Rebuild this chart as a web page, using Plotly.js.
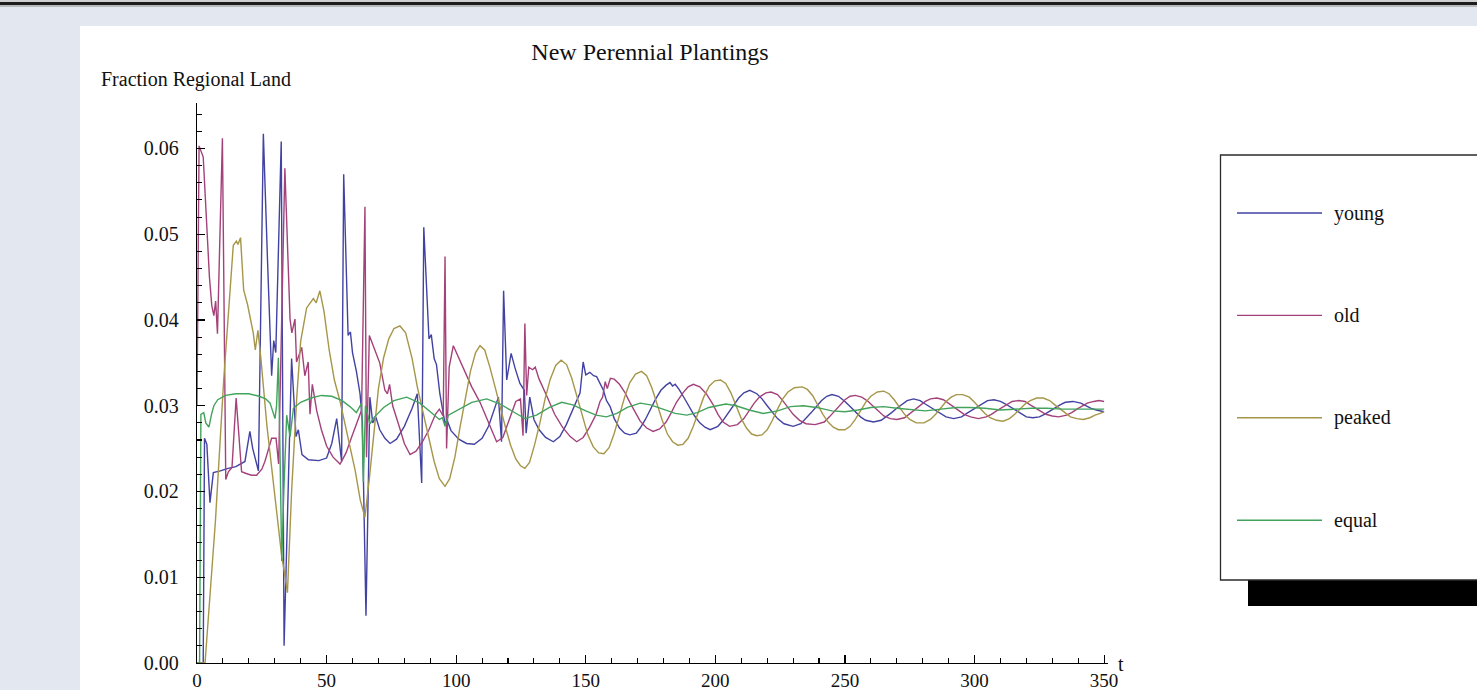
<!DOCTYPE html>
<html>
<head>
<meta charset="utf-8">
<script src="https://cdn.plot.ly/plotly-3.0.1.min.js"></script>
<style>
  html, body { margin: 0; padding: 0; width: 1477px; height: 690px; overflow: hidden; background: #e3e7f0; }
  #topband { position: absolute; left: 0; top: 0; width: 1477px; height: 7px;
    background: linear-gradient(to bottom, #d0d0d0 0px, #d0d0d0 2px, #1c1c1c 2px, #1c1c1c 5px, #b8b8b8 5px, #b8b8b8 7px); }
  #panel { position: absolute; left: 80px; top: 26px; width: 1397px; height: 664px; background: #ffffff; }
  #chart { position: absolute; left: 0; top: 0; width: 1477px; height: 690px; }
</style>
</head>
<body>
<div id="topband"></div>
<div id="panel"></div>
<div id="chart"></div>
<script>
// ---------------- data ----------------
const seriesNames = ["young", "old", "peaked", "equal"];
const seriesColors = ["#4242a3", "#a3427a", "#a69649", "#42a35c"];

const tYoung = [0,2.4,2.9,3.8,5,6.3,9,12,15,17,18.5,20.4,21.5,23.7,25.6,27.2,28.8,29.6,30.4,32.5,33.6,36.5,38.2,39.1,40.5,43,47,50,52,53.9,55.8,56.6,58.3,59.2,60,61.5,62.9,63.8,65.2,66.7,67.8,69,70.5,72.5,74.5,77,80,83,85,86.7,87.5,89.5,90.4,91.5,92.4,93.7,95.7,96.5,98,101,104,107,110,112.5,114.5,116.3,117.5,118.3,119.5,121.2,122.8,124.6,126.3,127,128.4,130,132,134.5,137.5,140,142.5,145,147.8,149,150,151.6,153,154.2,156.8,158,159.4,161,163,165,167,169.5,171,173,175,177,179,181,182.5,183.5,184.5,186,188,190,192,194,196,198,201,203,205,207,209,211,213.3,216,218,220,222,224,226.5,230,233,235,237,239,241,243,245,247.5,250,252,254,256,258,261,264,266,268,270,272,274,276.5,279,281,283,285,287,289,292,295,297,299,301,303,305,307.5,310,312,314,316,318,320,322.5,325,327,329,331,333,335,338,341,343,345,347,350];
const young = [0.0000,0.0000,0.0262,0.0255,0.0187,0.0222,0.0224,0.0227,0.0229,0.0232,0.0235,0.0270,0.0250,0.0224,0.0617,0.0470,0.0335,0.0376,0.0362,0.0608,0.0020,0.0355,0.0264,0.0272,0.0243,0.0237,0.0236,0.0239,0.0256,0.0285,0.0235,0.0570,0.0382,0.0386,0.0362,0.0340,0.0314,0.0282,0.0055,0.0310,0.0280,0.0287,0.0272,0.0262,0.0256,0.0261,0.0276,0.0297,0.0314,0.0210,0.0508,0.0378,0.0383,0.0355,0.0348,0.0314,0.0279,0.0283,0.0271,0.0261,0.0256,0.0255,0.0262,0.0276,0.0293,0.0310,0.0258,0.0434,0.0330,0.0361,0.0343,0.0326,0.0318,0.0268,0.0310,0.0284,0.0272,0.0263,0.0258,0.0264,0.0278,0.0295,0.0315,0.0351,0.0336,0.0339,0.0335,0.0334,0.0318,0.0306,0.0299,0.0285,0.0274,0.0268,0.0266,0.0268,0.0274,0.0284,0.0296,0.0308,0.0318,0.0324,0.0327,0.0323,0.0325,0.0319,0.0309,0.0298,0.0288,0.0280,0.0275,0.0272,0.0276,0.0283,0.0292,0.0301,0.0309,0.0315,0.0318,0.0314,0.0308,0.0300,0.0292,0.0285,0.0279,0.0276,0.0279,0.0285,0.0292,0.0299,0.0306,0.0311,0.0313,0.0311,0.0305,0.0299,0.0293,0.0287,0.0283,0.0281,0.0283,0.0287,0.0292,0.0297,0.0302,0.0306,0.0308,0.0306,0.0302,0.0298,0.0294,0.0290,0.0287,0.0285,0.0287,0.0291,0.0295,0.0299,0.0303,0.0306,0.0307,0.0305,0.0302,0.0298,0.0294,0.0290,0.0287,0.0286,0.0287,0.0290,0.0294,0.0298,0.0301,0.0304,0.0305,0.0303,0.0300,0.0297,0.0295,0.0293];

const tOld = [0,0.8,2.4,3.5,4.8,5.7,6.5,7.2,7.9,9.8,11.1,12.1,13.5,15.1,17.2,19,21,23,25,26.2,28.8,30.5,31.5,33.9,35.9,36.6,37.8,38.4,40.4,41.6,42.9,43.6,44.5,46.2,48,50,52.5,55.2,57.5,59.5,61.6,63.5,64.8,65.4,66.5,68.6,70.5,72.5,73.5,74.3,75.5,78,80,82.2,84.5,87,89.5,92,93.5,95,95.7,96.3,97.3,98.9,100.8,103,106,109.2,112,115.6,118,120.5,123,124.8,125.8,126.5,127.2,128,129.5,130.5,132,135,138,141,144,146.5,149,151.5,154,155.5,156.5,157.5,158.3,159.5,161,163,165,167,169,171,173.5,176,178.5,181,183,185,187.5,189.5,191.5,194,196.5,199,201,203,205.5,208.5,211,213,215,217,219.5,221.5,224,226,228,230,232.5,235,238.5,242,244,246,248,250,252,254,256.5,259,261,263,265,267.5,270,273,275,277,279,281,283,285.5,288,290,292,294,296,298.5,301.5,304.5,306.5,308.5,310.5,312.5,314.5,317,319.5,321.5,323.5,325.5,327.5,330,332.5,335.5,337.5,339.5,341.5,343.5,346,348,350];
const old = [0.0300,0.0603,0.0590,0.0520,0.0450,0.0417,0.0405,0.0422,0.0384,0.0612,0.0214,0.0223,0.0228,0.0309,0.0223,0.0221,0.0219,0.0219,0.0226,0.0235,0.0262,0.0262,0.0232,0.0577,0.0401,0.0385,0.0401,0.0351,0.0368,0.0335,0.0351,0.0290,0.0325,0.0294,0.0272,0.0253,0.0240,0.0232,0.0245,0.0262,0.0279,0.0295,0.0532,0.0240,0.0382,0.0365,0.0350,0.0318,0.0314,0.0325,0.0300,0.0276,0.0256,0.0243,0.0247,0.0258,0.0272,0.0290,0.0296,0.0288,0.0474,0.0250,0.0345,0.0370,0.0357,0.0341,0.0322,0.0304,0.0283,0.0258,0.0263,0.0285,0.0305,0.0308,0.0265,0.0396,0.0312,0.0345,0.0342,0.0345,0.0331,0.0311,0.0290,0.0275,0.0264,0.0258,0.0263,0.0275,0.0290,0.0305,0.0310,0.0328,0.0320,0.0332,0.0331,0.0325,0.0316,0.0304,0.0293,0.0282,0.0274,0.0270,0.0273,0.0281,0.0292,0.0304,0.0315,0.0322,0.0325,0.0322,0.0314,0.0302,0.0290,0.0281,0.0276,0.0278,0.0285,0.0294,0.0303,0.0310,0.0315,0.0316,0.0313,0.0306,0.0298,0.0290,0.0283,0.0279,0.0278,0.0281,0.0287,0.0294,0.0301,0.0307,0.0311,0.0312,0.0310,0.0305,0.0299,0.0293,0.0288,0.0285,0.0284,0.0286,0.0291,0.0296,0.0301,0.0305,0.0308,0.0309,0.0307,0.0303,0.0299,0.0294,0.0290,0.0287,0.0285,0.0287,0.0290,0.0294,0.0298,0.0302,0.0305,0.0306,0.0305,0.0301,0.0297,0.0293,0.0290,0.0288,0.0287,0.0289,0.0292,0.0296,0.0300,0.0303,0.0305,0.0306,0.0305];

const tPeaked = [0,3.1,7.1,10.3,14,15.2,15.8,16.8,18,19.5,21.7,22.5,23.5,24.5,27,30,32.7,33.5,34.9,36.5,38.5,40,42.3,44.9,46,47.4,49,51,53,55.2,58,61,63,64.8,66.5,68.5,70,72,74,76,78.3,80.5,83,85,87.3,89.5,91.5,93.5,95.7,97.5,99.5,101.5,103.5,105.5,107.5,109.2,111,113,115,117,119,121,123,124.8,126.5,128.3,130.3,132.3,134.3,136.3,138.4,140.5,142.6,144.6,146.7,148.8,150.8,152.9,155,157,159,161,163,165,167,169.2,171.5,173.5,175.5,177.5,179.5,181.5,183.5,185.5,187.5,189.5,191.5,193.5,195.5,197.7,199.8,202,204,206,208,210,212,214,216,218,220,222,224,226,228,230.5,233.5,235.5,237.5,239.5,241.5,243.5,245.5,247.5,250,252,254,256,258,260,262.5,265,267,269,271,273,275,277.5,280.5,283,285,287,289,291,293,295.5,298,300,302,304,306,308.5,311,313.5,315.5,317.5,319.5,321.5,324,326.5,329,331,333,335,337,339.5,342,344.5,346.5,348.5,350];
const peaked = [0.0000,0.0000,0.0165,0.0330,0.0487,0.0492,0.0488,0.0496,0.0435,0.0418,0.0385,0.0365,0.0388,0.0360,0.0276,0.0195,0.0124,0.0110,0.0082,0.0200,0.0310,0.0375,0.0414,0.0425,0.0420,0.0434,0.0410,0.0365,0.0330,0.0305,0.0268,0.0225,0.0190,0.0170,0.0215,0.0280,0.0320,0.0356,0.0378,0.0390,0.0393,0.0385,0.0355,0.0322,0.0290,0.0260,0.0235,0.0215,0.0206,0.0215,0.0240,0.0275,0.0310,0.0340,0.0362,0.0370,0.0365,0.0345,0.0322,0.0298,0.0275,0.0254,0.0238,0.0230,0.0227,0.0234,0.0255,0.0280,0.0308,0.0331,0.0347,0.0353,0.0348,0.0332,0.0310,0.0287,0.0266,0.0252,0.0245,0.0244,0.0251,0.0268,0.0289,0.0310,0.0327,0.0337,0.0340,0.0335,0.0321,0.0302,0.0283,0.0267,0.0258,0.0254,0.0255,0.0262,0.0276,0.0293,0.0310,0.0323,0.0329,0.0330,0.0326,0.0315,0.0300,0.0285,0.0274,0.0267,0.0265,0.0266,0.0272,0.0283,0.0296,0.0308,0.0316,0.0321,0.0322,0.0319,0.0312,0.0301,0.0290,0.0281,0.0275,0.0272,0.0272,0.0276,0.0284,0.0294,0.0304,0.0311,0.0316,0.0317,0.0314,0.0307,0.0299,0.0290,0.0284,0.0280,0.0280,0.0284,0.0290,0.0298,0.0305,0.0310,0.0313,0.0313,0.0310,0.0304,0.0297,0.0291,0.0286,0.0283,0.0282,0.0285,0.0290,0.0296,0.0302,0.0306,0.0309,0.0309,0.0306,0.0301,0.0296,0.0291,0.0287,0.0285,0.0284,0.0286,0.0289,0.0291,0.0293];

const tEqual = [0,1.0,1.5,2.6,3.4,4.6,5.6,6.5,8,11,15,20,24,26.5,28.2,29.4,30.1,30.7,31.4,32,32.7,33.5,34.6,35.9,37.2,40,44,48,52,56,59,61.5,62.8,63.5,64.2,65,66.7,68.5,72,76,80.9,86,90,93.5,94.7,95.7,97,101,106,111.8,117,122,126.5,131,136,140.7,145,150,154,158,162,166,171,175,180,184.5,189,193,197.5,204,208,213,218.5,224,229,234,239,245,250,255,260,265,270,276,281,287,293,298,304,310,316,322,328,334,340,345,350];
const equal = [0.0000,0.0000,0.0290,0.0292,0.0280,0.0275,0.0290,0.0300,0.0307,0.0312,0.0314,0.0314,0.0311,0.0308,0.0303,0.0290,0.0285,0.0300,0.0356,0.0250,0.0119,0.0200,0.0289,0.0264,0.0297,0.0304,0.0309,0.0312,0.0311,0.0306,0.0299,0.0292,0.0300,0.0303,0.0211,0.0300,0.0279,0.0287,0.0298,0.0306,0.0310,0.0303,0.0293,0.0284,0.0286,0.0276,0.0289,0.0296,0.0304,0.0308,0.0302,0.0293,0.0285,0.0289,0.0298,0.0304,0.0301,0.0294,0.0289,0.0287,0.0291,0.0298,0.0303,0.0301,0.0296,0.0291,0.0289,0.0292,0.0298,0.0302,0.0300,0.0295,0.0291,0.0294,0.0299,0.0300,0.0298,0.0294,0.0293,0.0295,0.0298,0.0299,0.0297,0.0295,0.0294,0.0296,0.0298,0.0298,0.0297,0.0295,0.0296,0.0297,0.0297,0.0296,0.0296,0.0296,0.0296];

const xTickVals = [0, 50, 100, 150, 200, 250, 300, 350];
const yTickVals = [0, 0.01, 0.02, 0.03, 0.04, 0.05, 0.06];

// ---------------- geometry helpers (pixels -> paper) ----------------
const W = 1477, H = 690;
const mL = 197, mR = W - 1108, mT = 103, mB = H - 663;
const pw = W - mL - mR, ph = H - mT - mB;
const px = p => (p - mL) / pw;
const py = p => (H - mB - p) / ph;

const FONT = "Liberation Serif, Times New Roman, serif";

const xs = [tYoung, tOld, tPeaked, tEqual];
const ys = [young, old, peaked, equal];
const traces = seriesNames.map((n, i) => ({
  type: "scatter", mode: "lines", name: n,
  x: xs[i], y: ys[i],
  line: { color: seriesColors[i], width: 1.4 },
  hoverinfo: "skip"
}));

// custom legend (drawn from the series names/colours)
const shapes = [];
const annotations = [];
shapes.push({ type: "rect", xref: "paper", yref: "paper", x0: px(1248), x1: px(1500), y0: py(606), y1: py(579),
  fillcolor: "#000000", line: { width: 0 }, layer: "above" });
shapes.push({ type: "rect", xref: "paper", yref: "paper", x0: px(1220.5), x1: px(1500), y0: py(580), y1: py(155),
  fillcolor: "#ffffff", line: { color: "#2a2a2a", width: 1.3 }, layer: "above" });
seriesNames.forEach((n, i) => {
  const yy = 213 + i * 102.4;
  shapes.push({ type: "line", xref: "paper", yref: "paper", x0: px(1237), x1: px(1322), y0: py(yy), y1: py(yy),
    line: { color: seriesColors[i], width: 1.4 }, layer: "above" });
  annotations.push({ xref: "paper", yref: "paper", x: px(1332), y: py(yy), xanchor: "left", yanchor: "middle",
    text: n, showarrow: false, font: { family: FONT, size: 20, color: "#111" } });
});
annotations.push({ xref: "paper", yref: "paper", x: px(99), y: py(80), xanchor: "left", yanchor: "middle",
  text: "Fraction Regional Land", showarrow: false, font: { family: FONT, size: 20, color: "#111" } });
annotations.push({ xref: "paper", yref: "paper", x: px(1116), y: py(664), xanchor: "left", yanchor: "middle",
  text: "t", showarrow: false, font: { family: FONT, size: 20, color: "#111" } });

const layout = {
  width: W, height: H,
  margin: { l: mL, r: mR, t: mT, b: mB, pad: 0 },
  paper_bgcolor: "rgba(0,0,0,0)", plot_bgcolor: "rgba(0,0,0,0)",
  showlegend: false,
  title: { text: "New Perennial Plantings", x: 650 / W, xref: "container", xanchor: "center",
    y: 1 - 52 / H, yref: "container", yanchor: "middle", font: { family: FONT, size: 24, color: "#111" } },
  xaxis: {
    range: [0, 351.5], showgrid: false, zeroline: false,
    showline: true, linecolor: "#000", linewidth: 1.2,
    tickmode: "array", tickvals: xTickVals, ticktext: xTickVals.map(String),
    ticks: "inside", ticklen: 8, tickwidth: 1.2, tickcolor: "#000",
    minor: { dtick: 10, ticks: "inside", ticklen: 5, tickwidth: 1.1, tickcolor: "#000" },
    tickfont: { family: FONT, size: 19, color: "#111" }, ticklabelstandoff: 0,
    fixedrange: true
  },
  yaxis: {
    range: [0, 0.0653], showgrid: false, zeroline: false,
    showline: true, linecolor: "#000", linewidth: 1.2,
    tickmode: "array", tickvals: yTickVals, ticktext: yTickVals.map(v => v.toFixed(2)),
    ticks: "inside", ticklen: 8, tickwidth: 1.2, tickcolor: "#000",
    minor: { dtick: 0.002, ticks: "inside", ticklen: 5, tickwidth: 1.1, tickcolor: "#000" },
    tickfont: { family: FONT, size: 20, color: "#111" }, ticklabelstandoff: 13,
    fixedrange: true
  },
  shapes: shapes,
  annotations: annotations
};

Plotly.newPlot("chart", traces, layout, { displayModeBar: false, staticPlot: true });
</script>
</body>
</html>
